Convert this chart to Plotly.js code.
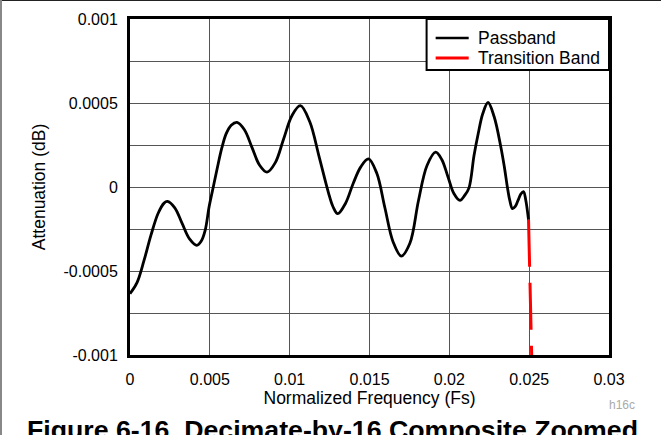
<!DOCTYPE html>
<html>
<head>
<meta charset="utf-8">
<script src="https://cdn.plot.ly/plotly-3.0.1.min.js"></script>
<style>
  html, body { margin: 0; padding: 0; background: #fff; }
  #chart { width: 661px; height: 435px; position: relative; }
  #topline { position: absolute; left: 0; top: 0; width: 661px; height: 1px; background: #222; z-index: 5; }
  #leftline { position: absolute; left: 0; top: 0; width: 2px; height: 435px; background: #888; z-index: 5; }
</style>
</head>
<body>
<div id="chart"></div>
<div id="topline"></div>
<div id="leftline"></div>
<script>
// Passband response (normalized frequency, attenuation in dB)
const passbandFreq = [
  0, 0.000439, 0.000879, 0.001318, 0.001757, 0.002134, 0.002341, 0.002805, 0.003264, 0.003728,
  0.004186, 0.004456, 0.004707, 0.004958, 0.005209, 0.005460, 0.005755, 0.006025, 0.006339, 0.006697,
  0.007167, 0.007638, 0.008109, 0.008579, 0.009100, 0.009621, 0.010149, 0.010669, 0.011253, 0.011843,
  0.012427, 0.012709, 0.013010, 0.013494, 0.013977, 0.014454, 0.014937, 0.015452, 0.015960, 0.016475,
  0.016989, 0.017529, 0.018069, 0.018603, 0.019142, 0.019525, 0.019908, 0.020285, 0.020667, 0.020962,
  0.021232, 0.021546, 0.021810, 0.022092, 0.022425, 0.022808, 0.023222, 0.023442, 0.023642, 0.023787,
  0.023956, 0.024131, 0.024301, 0.024477, 0.024646, 0.024791, 0.024960
];
const passbandAtten = [
  -0.000635, -0.000569, -0.000437, -0.000285, -0.000158, -0.000096, -0.000086, -0.000124, -0.000217, -0.000309,
  -0.000347, -0.000323, -0.000258, -0.000116, -0.000003, 0.000110, 0.000234, 0.000318, 0.000368, 0.000385,
  0.000341, 0.000236, 0.000131, 0.000088, 0.000145, 0.000286, 0.000426, 0.000484, 0.000390, 0.000181,
  -0.000033, -0.000116, -0.000159, -0.000098, 0.000021, 0.000120, 0.000167, 0.000083, -0.000122, -0.000326,
  -0.000411, -0.000335, -0.000080, 0.000128, 0.000207, 0.000164, 0.000063, -0.000039, -0.000080, -0.000050,
  -0.000005, 0.000187, 0.000318, 0.000436, 0.000503, 0.000418, 0.000240, 0.000122, -0.000005, -0.000080,
  -0.000129, -0.000116, -0.000080, -0.000042, -0.000027, -0.000080, -0.000195
];
// Transition band start (continues below the visible range)
const transitionFreq = [0.024960, 0.025167];
const transitionAtten = [-0.000195, -0.001042];

const xTickVals = [0, 0.005, 0.01, 0.015, 0.02, 0.025, 0.03];
const xTickText = ['0', '0.005', '0.01', '0.015', '0.02', '0.025', '0.03'];
const yTickVals = [-0.001, -0.00075, -0.0005, -0.00025, 0, 0.00025, 0.0005, 0.00075, 0.001];
const yTickText = ['-0.001', '', '-0.0005', '', '0', '', '0.0005', '', '0.001'];
const legendNames = ['Passband', 'Transition Band'];
const seriesColors = ['#000000', '#ff0000'];

const FONT = 'Liberation Sans, Arial, Helvetica, sans-serif';

const traces = [
  {
    x: passbandFreq, y: passbandAtten, type: 'scatter', mode: 'lines', name: legendNames[0],
    line: { color: seriesColors[0], width: 2.8, shape: 'spline', smoothing: 1 }
  },
  {
    x: transitionFreq, y: transitionAtten, type: 'scatter', mode: 'lines', name: legendNames[1],
    line: { color: seriesColors[1], width: 3, dash: '47px,16px' }
  }
];

// Legend drawn as a boxed key in the top-right corner of the plot
const legX0 = 0.6192, legY0 = 0.8482;
const legRows = [0.9435, 0.8839];
const shapes = [
  { type: 'rect', xref: 'paper', yref: 'paper', x0: legX0, x1: 1, y0: legY0, y1: 1,
    line: { color: '#000', width: 2 }, fillcolor: '#fff', layer: 'above' }
];
const annotations = [];
legendNames.forEach((name, i) => {
  shapes.push({ type: 'line', xref: 'paper', yref: 'paper', x0: 0.6381, x1: 0.7071,
    y0: legRows[i], y1: legRows[i], line: { color: seriesColors[i], width: i === 0 ? 2.5 : 3 }, layer: 'above' });
  annotations.push({ text: name, xref: 'paper', yref: 'paper', x: 0.7225, y: legRows[i],
    xanchor: 'left', yanchor: 'middle', showarrow: false,
    font: { family: FONT, size: 17.5, color: '#000' } });
});
annotations.push(
  {
    text: 'h16c', xref: 'paper', yref: 'paper', x: 1.0586, y: -0.149,
    xanchor: 'right', yanchor: 'middle', showarrow: false,
    font: { family: FONT, size: 12, color: '#aaa' }
  },
  {
    text: '<b>Figure 6-16. Decimate-by-16 Composite Zoomed</b>', xref: 'paper', yref: 'paper',
    x: -0.22, y: -0.173, xanchor: 'left', yanchor: 'top', showarrow: false,
    font: { family: FONT, size: 26.7, color: '#000' }
  }
);

const layout = {
  width: 661, height: 435,
  margin: { l: 130, r: 52, t: 19, b: 80 },
  paper_bgcolor: '#fff', plot_bgcolor: '#fff',
  font: { family: FONT, color: '#000', size: 16 },
  showlegend: false,
  xaxis: {
    range: [0, 0.03], tickvals: xTickVals, ticktext: xTickText,
    showgrid: true, gridcolor: '#555', gridwidth: 1,
    showline: true, linecolor: '#000', linewidth: 3, mirror: true,
    ticks: 'outside', ticklen: 8, tickcolor: 'rgba(0,0,0,0)',
    zeroline: false,
    tickfont: { family: FONT, size: 16 },
    title: { text: 'Normalized Frequency (Fs)', font: { family: FONT, size: 17.5 }, standoff: 2 }
  },
  yaxis: {
    range: [-0.001, 0.001], tickvals: yTickVals, ticktext: yTickText,
    showgrid: true, gridcolor: '#555', gridwidth: 1,
    showline: true, linecolor: '#000', linewidth: 3, mirror: true,
    ticks: 'outside', ticklen: 6, tickcolor: 'rgba(0,0,0,0)',
    zeroline: false,
    tickfont: { family: FONT, size: 16 },
    title: { text: 'Attenuation (dB)', font: { family: FONT, size: 17.5 }, standoff: 14 }
  },
  shapes: shapes,
  annotations: annotations
};

Plotly.newPlot('chart', traces, layout, { displayModeBar: false, staticPlot: true });
</script>
</body>
</html>
